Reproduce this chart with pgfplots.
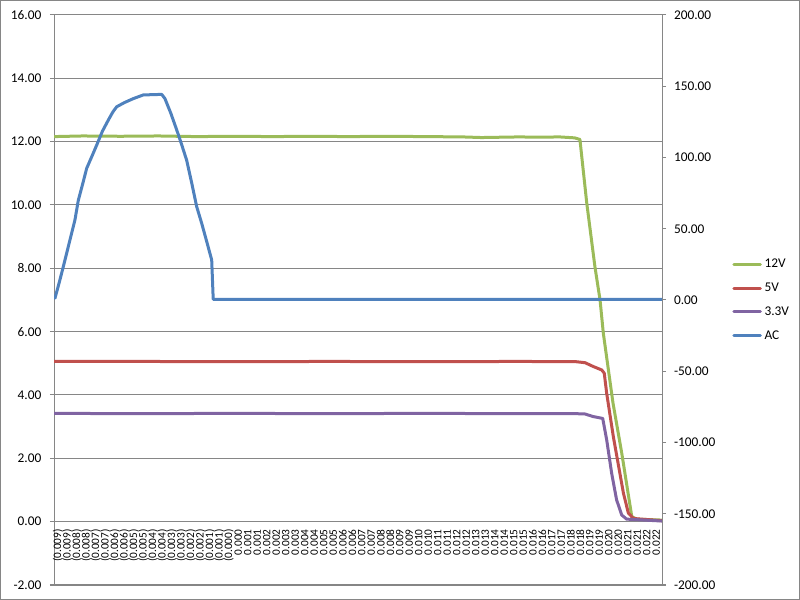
\documentclass[border=0pt]{standalone}
\usepackage{fontspec}
\setmainfont{Carlito}
\usepackage{pgfplots}
\pgfplotsset{compat=1.18}

\definecolor{gridgray}{HTML}{868686}
\definecolor{v12}{HTML}{9BBB59}
\definecolor{v5}{HTML}{C0504D}
\definecolor{v33}{HTML}{8064A2}
\definecolor{vac}{HTML}{4F81BD}

\pgfplotsset{
  railstyle/.style={line width=2.25pt, line join=round, line cap=round},
  common/.style={
    at={(40.5pt,11.25pt)}, anchor=south west,
    scale only axis, width=456pt, height=427.5pt,
    xmin=-9.5, xmax=22.5,
    axis line style={gridgray, line width=0.75pt},
    tick style={gridgray, line width=0.75pt},
    tick align=outside, major tick length=3pt,
    ticklabel style={font=\fontsize{10}{12}\selectfont, text=black},
    /pgf/number format/.cd, fixed, fixed zerofill, precision=2,
    assume math mode=true,
  },
}

\begin{document}
\begin{tikzpicture}
\useasboundingbox (0,0) rectangle (600pt,450pt);
\draw[gridgray, line width=0.75pt] (0.375pt,0.375pt) rectangle (599.625pt,449.625pt);

% primary axis: DC rails (V), time in ms on x
\begin{axis}[common,
  ymin=-2, ymax=16, ytick={-2,0,2,4,6,8,10,12,14,16},
  axis y line*=left, axis x line*=middle,
  yticklabel style={xshift=-3pt},
  ymajorgrids, grid style={gridgray, line width=0.75pt},
  xtick={-9.3,-8.8,-8.3,-7.8,-7.3,-6.8,-6.3,-5.8,-5.3,-4.8,-4.3,-3.8,-3.3,-2.8,-2.3,-1.8,-1.3,-0.8,-0.3,
         0.2,0.7,1.2,1.7,2.2,2.7,3.2,3.7,4.2,4.7,5.2,5.7,6.2,6.7,7.2,7.7,8.2,8.7,9.2,9.7,10.2,10.7,
         11.2,11.7,12.2,12.7,13.2,13.7,14.2,14.7,15.2,15.7,16.2,16.7,17.2,17.7,18.2,18.7,19.2,19.7,
         20.2,20.7,21.2,21.7,22.2},
  xticklabels={(0.009),(0.009),(0.008),(0.008),(0.007),(0.007),(0.006),(0.006),(0.005),(0.005),
    (0.004),(0.004),(0.003),(0.003),(0.002),(0.002),(0.001),(0.001),(0.000),
    0.000,0.001,0.001,0.002,0.002,0.003,0.003,0.004,0.004,0.005,0.005,0.006,0.006,
    0.007,0.007,0.008,0.008,0.009,0.009,0.010,0.010,0.011,0.011,0.012,0.012,0.013,0.013,
    0.014,0.014,0.015,0.015,0.016,0.016,0.017,0.017,0.018,0.018,0.019,0.019,0.020,0.020,
    0.021,0.021,0.022,0.022},
  xtick style={draw=none},
  xticklabel style={rotate=90, anchor=east, font=\fontsize{8.5}{9}\selectfont, inner sep=2.5pt},
  legend style={at={(1,0.5)}, anchor=west, xshift=52.5pt, draw=none, fill=none,
    inner sep=0pt, row sep=6pt, font=\fontsize{10}{12}\selectfont},
  legend cell align=left,
  legend image code/.code={\draw[#1] (0pt,0pt) -- (20pt,0pt);},
]
\addplot[railstyle, v12] coordinates {
  (-9.5,12.16) (-8.0,12.18) (-6.0,12.17) (-4.0,12.18) (-2.0,12.16) (0.0,12.17)
  (2.0,12.16) (4.0,12.17) (6.0,12.16) (8.0,12.17) (10.0,12.16) (12.0,12.15)
  (13.0,12.13) (14.0,12.14) (15.0,12.15) (16.0,12.14) (17.1,12.15) (17.9,12.12)
  (18.18,12.07) (18.54,10.06) (18.97,8.05) (19.24,7.00) (19.41,5.96) (19.92,3.75)
  (20.38,2.17) (20.91,0.16) (21.17,0.08) (22.5,0.05)
};
\addlegendentry{12V}
\addplot[railstyle, v5] coordinates {
  (-9.5,5.06) (-5.0,5.06) (0.0,5.05) (5.0,5.06) (10.0,5.05) (15.0,5.06) (18.0,5.05)
  (18.45,5.02) (18.88,4.90) (19.33,4.79) (19.46,4.69) (19.59,4.05) (19.94,2.68)
  (20.47,0.90) (20.73,0.27) (21.00,0.10) (22.5,0.03)
};
\addlegendentry{5V}
\addplot[railstyle, v33] coordinates {
  (-9.5,3.42) (-5.0,3.41) (0.0,3.42) (5.0,3.41) (10.0,3.42) (15.0,3.41) (18.0,3.41)
  (18.45,3.40) (18.87,3.32) (19.38,3.26) (19.59,2.58) (19.85,1.53) (20.11,0.69)
  (20.38,0.21) (20.64,0.08) (22.5,0.02)
};
\addlegendentry{3.3V}
\addlegendimage{railstyle, vac}
\addlegendentry{AC}
\end{axis}

% secondary axis: AC input (V)
\begin{axis}[common,
  ymin=-200, ymax=200, ytick={-200,-150,-100,-50,0,50,100,150,200},
  axis y line*=right, axis x line=none,
  yticklabel style={xshift=2.5pt},
]
\addplot[railstyle, vac] coordinates {
  (-9.45,1.2) (-9.22,12.5) (-9.01,23.4) (-8.70,40.0) (-8.40,56.0) (-8.22,70.0)
  (-7.98,82.0) (-7.78,92.4) (-7.50,101.0) (-7.25,108.8) (-6.95,118.5) (-6.64,126.3)
  (-6.40,132.0) (-6.20,135.6) (-5.80,138.5) (-5.33,141.3) (-4.80,143.9)
  (-3.83,144.3) (-3.66,141.3) (-3.35,131.0) (-3.04,119.3) (-2.78,109.0) (-2.52,98.2)
  (-2.25,82.0) (-1.99,65.5) (-1.72,53.5) (-1.46,40.9) (-1.20,28.1) (-1.12,0.5)
  (5.0,0.5) (12.0,0.5) (22.5,0.5)
};
\end{axis}
\end{tikzpicture}
\end{document}
